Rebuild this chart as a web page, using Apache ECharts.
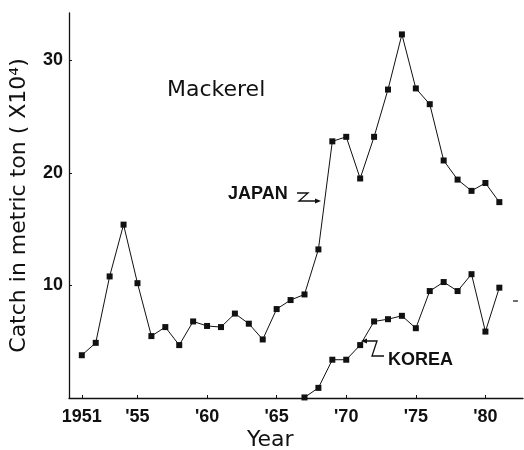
<!DOCTYPE html>
<html>
<head>
<meta charset="utf-8">
<script src="https://cdn.jsdelivr.net/npm/echarts@6/dist/echarts.min.js"></script>
<style>
  html, body { margin: 0; padding: 0; background: #fff; }
  #chart { width: 524px; height: 450px; }
</style>
</head>
<body>
<div id="chart"></div>
<script>
// catch in metric ton (x10^4)
var japanYears = [1951, 1952, 1953, 1954, 1955, 1956, 1957, 1958, 1959, 1960,
    1961, 1962, 1963, 1964, 1965, 1966, 1967, 1968, 1969, 1970,
    1971, 1972, 1973, 1974, 1975, 1976, 1977, 1978, 1979, 1980, 1981];
var japanCatch = [3.8, 4.9, 10.8, 15.4, 10.2, 5.5, 6.3, 4.7, 6.8, 6.4,
    6.3, 7.5, 6.6, 5.2, 7.9, 8.7, 9.2, 13.2, 22.8, 23.2,
    19.5, 23.2, 27.4, 32.3, 27.5, 26.1, 21.1, 19.4, 18.4, 19.1, 17.4];

var koreaYears = [1967, 1968, 1969, 1970, 1971, 1972, 1973, 1974, 1975, 1976,
    1977, 1978, 1979, 1980, 1981];
var koreaCatch = [0.05, 0.9, 3.4, 3.4, 4.7, 6.8, 7.0, 7.3, 6.2, 9.5,
    10.3, 9.5, 11.0, 5.9, 9.8];

var yearTicks = [1951, 1955, 1960, 1965, 1970, 1975, 1980];
var yearLabels = ['1951', "'55", "'60", "'65", "'70", "'75", "'80"];
var catchTicks = [10, 20, 30];

function pairs(xs, ys) {
    return xs.map(function (x, i) { return [x, ys[i]]; });
}

var chart = echarts.init(document.getElementById('chart'));

var tickFont = {
    color: '#111',
    fontFamily: "'Liberation Sans', sans-serif",
    fontWeight: 'bold',
    fontSize: 18
};

var option = {
    backgroundColor: '#ffffff',
    animation: false,
    grid: {
        left: 62,
        right: 1,
        top: 13,
        bottom: 52
    },
    xAxis: {
        type: 'value',
        min: 1950.08,
        max: 1982.7,
        splitLine: {show: false},
        axisLine: {lineStyle: {color: '#111', width: 1.3}},
        axisTick: {
            show: true,
            inside: true,
            length: 3,
            customValues: yearTicks,
            lineStyle: {color: '#111'}
        },
        axisLabel: {
            customValues: yearTicks,
            margin: 10,
            formatter: function (v) {
                var i = yearTicks.indexOf(Math.round(v));
                return i >= 0 ? yearLabels[i] : '';
            },
            color: tickFont.color,
            fontFamily: tickFont.fontFamily,
            fontWeight: tickFont.fontWeight,
            fontSize: tickFont.fontSize
        }
    },
    yAxis: {
        type: 'value',
        min: 0,
        max: 34.2,
        name: 'Catch in metric ton ( X10\u2074)',
        nameLocation: 'middle',
        nameGap: 39,
        nameTextStyle: {
            color: '#111',
            fontFamily: "'DejaVu Sans', sans-serif",
            fontSize: 22
        },
        splitLine: {show: false},
        axisLine: {show: true, lineStyle: {color: '#111', width: 1.3}},
        axisTick: {
            show: true,
            inside: true,
            length: 3,
            customValues: catchTicks,
            lineStyle: {color: '#111'}
        },
        axisLabel: {
            customValues: catchTicks,
            margin: 6,
            color: tickFont.color,
            fontFamily: tickFont.fontFamily,
            fontWeight: tickFont.fontWeight,
            fontSize: tickFont.fontSize
        }
    },
    graphic: [
        {
            type: 'text', left: 167, top: 79,
            style: {text: 'Mackerel', fill: '#111', font: "22px 'DejaVu Sans', sans-serif"}
        },
        {
            type: 'text', left: 228, top: 185,
            style: {text: 'JAPAN', fill: '#111', font: "bold 18px 'Liberation Sans', sans-serif"}
        },
        {
            type: 'polyline',
            shape: {points: [[297, 193], [308, 193], [299, 201], [317, 201]]},
            style: {stroke: '#111', lineWidth: 1.3, fill: null}
        },
        {
            type: 'polygon',
            shape: {points: [[321, 201], [315, 198.5], [315, 203.5]]},
            style: {fill: '#111'}
        },
        {
            type: 'text', left: 388, top: 351,
            style: {text: 'KOREA', fill: '#111', font: "bold 18px 'Liberation Sans', sans-serif"}
        },
        {
            type: 'polyline',
            shape: {points: [[366, 341], [377, 341], [372, 356], [384, 356]]},
            style: {stroke: '#111', lineWidth: 1.3, fill: null}
        },
        {
            type: 'polygon',
            shape: {points: [[361, 341], [367, 338.5], [367, 343.5]]},
            style: {fill: '#111'}
        },
        {
            type: 'line',
            shape: {x1: 513, y1: 301, x2: 518, y2: 301},
            style: {stroke: '#111', lineWidth: 1.2}
        },
        {
            type: 'text', left: 247, top: 429,
            style: {text: 'Year', fill: '#111', font: "22px 'DejaVu Sans', sans-serif"}
        }
    ],
    series: [
        {
            name: 'Japan',
            type: 'line',
            data: pairs(japanYears, japanCatch),
            symbol: 'rect',
            symbolSize: 6,
            itemStyle: {color: '#111'},
            lineStyle: {color: '#111', width: 1}
        },
        {
            name: 'Korea',
            type: 'line',
            data: pairs(koreaYears, koreaCatch),
            symbol: 'rect',
            symbolSize: 6,
            itemStyle: {color: '#111'},
            lineStyle: {color: '#111', width: 1}
        }
    ]
};

chart.setOption(option);
</script>
</body>
</html>
